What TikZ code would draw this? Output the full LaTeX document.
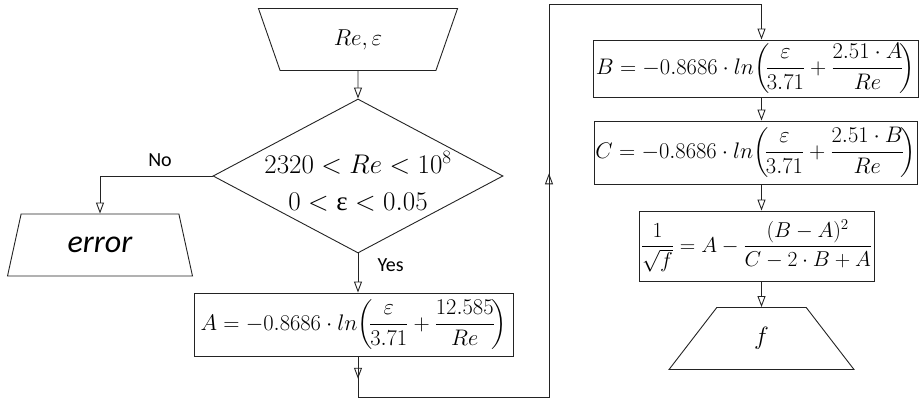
\RequirePackage{fix-cm}
\documentclass[tikz,border=0pt]{standalone}
\usepackage{amsmath}
\usepackage{fontspec}
\usetikzlibrary{arrows.meta,shapes.geometric,calc}
\newfontfamily\calib{Carlito}
\newfontfamily\grk{Liberation Serif}
\definecolor{ink}{RGB}{35,35,35}
\tikzset{
  wire/.style={line width=.9pt,draw=ink},
  flow/.style={wire,-{Triangle[open,length=11pt,width=8pt]}},
  procbox/.style={draw=ink,line width=.9pt,inner sep=0pt,align=center,font=\fontsize{22.5}{27}\selectfont},
  iobox/.style={trapezium,trapezium stretches=true,draw=ink,line width=.9pt,inner sep=0pt,minimum height=62pt},
  cond/.style={diamond,draw=ink,line width=.9pt,inner sep=0pt,minimum width=290pt,minimum height=154pt},
  condtext/.style={align=center,font=\fontsize{27}{37}\selectfont},
  lab/.style={font=\calib\fontsize{20}{23}\selectfont}
}

\begin{document}
\begin{tikzpicture}[x=1pt,y=-1pt]
  \useasboundingbox (0,0) rectangle (920,400);

  \node[iobox,shape border rotate=180,trapezium angle=71.6,minimum width=200pt,font=\fontsize{23}{27}\selectfont] (inp) at (358,39.5) {$Re,\varepsilon$};
  \node[cond] (dec) at (358,176) {};
  \node[condtext] (dectxt) at (358,181.5) {$2320<Re<10^8$\\$0<\hbox{\grk ε}<0.05$};
  \node[iobox,trapezium angle=70.5,minimum width=185pt,font=\calib\itshape\fontsize{32}{36}\selectfont] (err) at (100,245) {error};
  \node[procbox,minimum width=319pt,minimum height=63pt] (A) at (353.5,324.5) {$\displaystyle A=-0.8686\cdot ln\!\left(\!\frac{\varepsilon}{3.71}+\frac{12.585}{Re}\!\right)$};

  \node[procbox,minimum width=325pt,minimum height=57pt] (B) at (755.5,68.5) {$\displaystyle B=-0.8686\cdot ln\!\left(\!\frac{\varepsilon}{3.71}+\frac{2.51\cdot A}{Re}\!\right)$};
  \node[procbox,minimum width=323pt,minimum height=63pt] (C) at (755.5,152.5) {$\displaystyle C=-0.8686\cdot ln\!\left(\!\frac{\varepsilon}{3.71}+\frac{2.51\cdot B}{Re}\!\right)$};
  \node[procbox,minimum width=235pt,minimum height=70pt,font=\fontsize{21.5}{26}\selectfont] (D) at (756.5,246) {$\displaystyle \frac{1}{\sqrt{f}}=A-\frac{(B-A)^2}{C-2\cdot B+A}$};
  \node[iobox,trapezium angle=70.5,minimum width=185pt,font=\fontsize{25}{29}\selectfont] (res) at (761.5,338.5) {$f$};

  \node[lab] (no) at (160,160) {No};
  \node[lab,anchor=west] (yes) at (374,265) {Yes};

  \coordinate (lp1) at (358,397);
  \coordinate (lp2) at (549,397);
  \coordinate (lp3) at (549,4.5);
  \coordinate (lp4) at (761.5,4.5);

  \draw[flow] (inp.south) -- (dec.north);
  \draw[flow] (dec.west) -| (err.north);
  \draw[flow] (dec.south) -- (dec.south |- A.north);
  \draw[wire] (A.south -| dec.south) -- (lp1) -- (lp2) -- (lp3) -- (lp4);
  \draw[flow] (A.south -| dec.south) -- ($(A.south -| dec.south)!.55!(lp1)$);
  \draw[flow] (lp2) -- ($(lp2)!.57!(lp3)$);
  \draw[flow] (lp4) -- (B.north -| lp4);
  \draw[flow] (B.south -| res.north) -- (C.north -| res.north);
  \draw[flow] (C.south -| res.north) -- (D.north -| res.north);
  \draw[flow] (D.south -| res.north) -- (res.north);
\end{tikzpicture}
\end{document}
